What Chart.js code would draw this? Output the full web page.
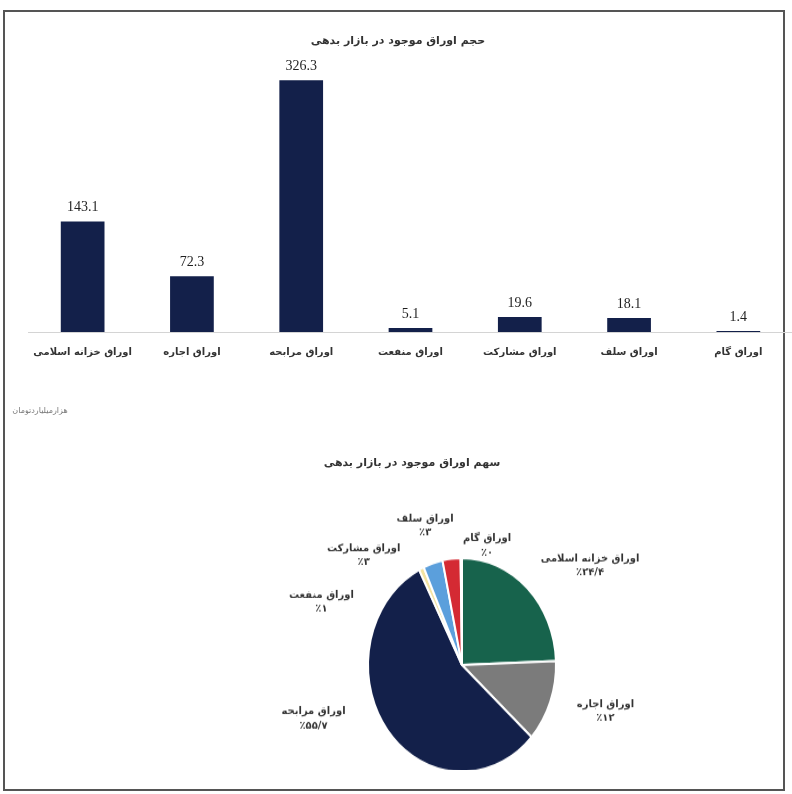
<!DOCTYPE html>
<html lang="fa">
<head>
<meta charset="utf-8">
<script src="https://cdn.jsdelivr.net/npm/chart.js@4.4.1/dist/chart.umd.min.js"></script>
<style>
  html, body { margin: 0; padding: 0; background: #fff; width: 792px; height: 794px; overflow: hidden; }
  .frame { position: absolute; left: 3px; top: 10px; width: 778px; height: 777px; border: 2px solid #555; }
  .txt { position: absolute; font-family: "DejaVu Sans", sans-serif; font-weight: bold; color: #333; direction: rtl; white-space: nowrap; transform: translate(-50%, -50%); }
  #barTitle { left: 398px; top: 40px; font-size: 11px; }
  #pieTitle { left: 412px; top: 462px; font-size: 11px; }
  #unit { left: 40px; top: 410px; font-size: 8px; font-weight: normal; color: #777; }
  #barCanvas { position: absolute; left: 0; top: 0; }
  .pieClip { position: absolute; left: 0; top: 0; width: 792px; height: 770px; overflow: hidden; }
  #pieCanvas { position: absolute; left: 232px; top: 525px; transform: scaleY(1.138); transform-origin: 230px 140px; }
</style>
</head>
<body>
<div class="frame"></div>
<canvas id="barCanvas" width="800" height="380"></canvas>
<div class="pieClip"><canvas id="pieCanvas" width="460" height="280"></canvas></div>
<div class="txt" id="barTitle">حجم اوراق موجود در بازار بدهی</div>
<div class="txt" id="unit">هزارمیلیاردتومان</div>
<div class="txt" id="pieTitle">سهم اوراق موجود در بازار بدهی</div>

<script>
// نوع اوراق و حجم (هزار میلیارد تومان)
const CATEGORIES = ['اوراق خزانه اسلامی', 'اوراق اجاره', 'اوراق مرابحه', 'اوراق منفعت', 'اوراق مشارکت', 'اوراق سلف', 'اوراق گام'];
const VOLUMES = [143.1, 72.3, 326.3, 5.1, 19.6, 18.1, 1.4];
const PIE_PERCENT = ['٪۲۴/۴', '٪۱۲', '٪۵۵/۷', '٪۱', '٪۳', '٪۳', '٪۰'];
const PIE_COLORS = ['#17634c', '#7b7b7b', '#13204a', '#f3e3a0', '#5b9fdc', '#d42a33', '#e8e8e8'];
const BAR_COLOR = '#13204a';

// pie is drawn round and stretched vertically by css
const STRETCH = 1.138;
// hand placement of the pie labels (px, relative to radial spot)
const LABEL_NUDGE = [[42, 2], [27, -2], [-50, -32], [-87, 64], [-60, 25], [-23, 1], [26, 22]];

Chart.defaults.font.family = '"DejaVu Sans", sans-serif';
Chart.defaults.color = '#333';

// ── مقدار بالای هر ستون ───────────────────────────
const barValues = {
    id: 'barValues',
    afterDatasetsDraw(chart) {
        const ctx = chart.ctx;
        ctx.save();
        ctx.font = '14px "Liberation Serif"';
        ctx.fillStyle = '#1f1f1f';
        ctx.textAlign = 'center';
        ctx.textBaseline = 'bottom';
        chart.getDatasetMeta(0).data.forEach((bar, i) => {
            ctx.fillText(VOLUMES[i].toFixed(1), bar.x, bar.y - 7);
        });
        ctx.restore();
    }
};

new Chart(document.getElementById('barCanvas'), {
    type: 'bar',
    data: {
        labels: CATEGORIES,
        datasets: [{
            data: VOLUMES,
            backgroundColor: BAR_COLOR,
            categoryPercentage: 1,
            barPercentage: 0.4
        }]
    },
    options: {
        responsive: false,
        animation: false,
        layout: { padding: { left: 28, right: 7, top: 62, bottom: 8 } },
        plugins: { legend: { display: false }, tooltip: { enabled: false } },
        scales: {
            y: { display: false, min: 0, max: 350 },
            x: {
                grid: { display: false, drawTicks: false },
                border: { display: true, color: '#d4d4d4', width: 1 },
                ticks: {
                    padding: 14, color: '#333', maxRotation: 0, minRotation: 0, autoSkip: false,
                    font: { size: 10, weight: 'bold' }
                }
            }
        }
    },
    plugins: [barValues]
});

// ── برچسب برش‌ها ───────────────────────────────────
const pieLabels = {
    id: 'pieLabels',
    afterDatasetsDraw(chart) {
        const ctx = chart.ctx;
        ctx.save();
        ctx.font = 'bold 10px "DejaVu Sans"';
        ctx.fillStyle = '#333';
        ctx.textAlign = 'center';
        ctx.textBaseline = 'middle';
        chart.getDatasetMeta(0).data.forEach((arc, i) => {
            const p = arc.getProps(['x', 'y', 'startAngle', 'endAngle', 'outerRadius'], true);
            const mid = (p.startAngle + p.endAngle) / 2;
            const r = p.outerRadius + 30;
            const lx = p.x + Math.cos(mid) * r + LABEL_NUDGE[i][0];
            const ly = p.y + Math.sin(mid) * r + LABEL_NUDGE[i][1] / STRETCH;
            ctx.save();
            ctx.translate(lx, ly);
            ctx.scale(1, 1 / STRETCH);
            ctx.fillText(CATEGORIES[i], 0, -7);
            ctx.direction = 'ltr';
            ctx.fillText(PIE_PERCENT[i], 0, 7);
            ctx.restore();
        });
        ctx.restore();
    }
};

new Chart(document.getElementById('pieCanvas'), {
    type: 'pie',
    data: {
        labels: CATEGORIES,
        datasets: [{
            data: VOLUMES,
            backgroundColor: PIE_COLORS,
            borderColor: '#fff',
            borderWidth: 2,
            radius: 94
        }]
    },
    options: {
        responsive: false,
        animation: false,
        layout: { padding: 0 },
        plugins: { legend: { display: false }, tooltip: { enabled: false } }
    },
    plugins: [pieLabels]
});
</script>
</body>
</html>
